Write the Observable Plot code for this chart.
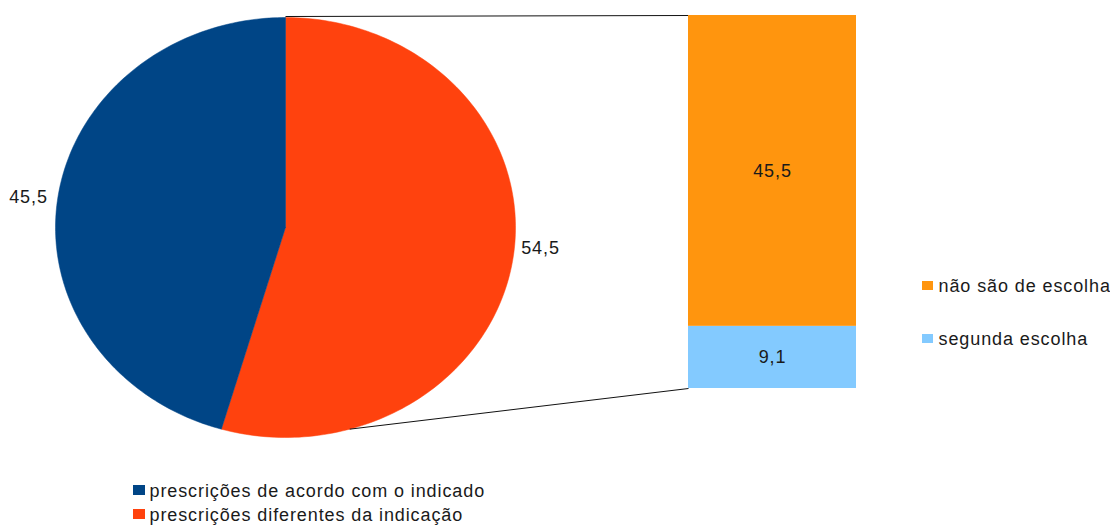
<!DOCTYPE html>
<html><head><meta charset="utf-8">
<script src="https://cdn.jsdelivr.net/npm/d3@7"></script>
<script src="https://cdn.jsdelivr.net/npm/@observablehq/plot@0.6"></script>
<style>
body{margin:0;background:#fff;}
#chart{position:relative;width:1110px;height:526px;}
#chart svg{position:absolute;left:0;top:0;}
#chart svg text{letter-spacing:0.9px;}
</style></head><body><div id="chart"></div>
<script>
const pieCategories = ["prescrições de acordo com o indicado", "prescrições diferentes da indicação"];
const pieValues = [45.5, 54.5];
const pieLabels = ["45,5", "54,5"];
const pieColors = ["#004586", "#ff420e"];
const barCategories = ["segunda escolha", "não são de escolha"];
const barValues = [9.1, 45.5];
const barLabels = ["9,1", "45,5"];
const barColors = ["#83caff", "#ff950e"];

const FONT = "Liberation Sans, Arial, sans-serif";
const TXT = "#1a1a1a";

// ---------- bar (second plot, overlaid) ----------
const barData = barCategories.map((c, i) => ({cat: c, value: barValues[i], label: barLabels[i]}));
const bar = Plot.plot({
  width: 1110, height: 526,
  marginLeft: 688, marginRight: 254, marginTop: 15, marginBottom: 138,
  x: {domain: ["g"], padding: 0, axis: null},
  y: {domain: [0, d3.sum(barValues)], axis: null},
  color: {domain: barCategories, range: barColors},
  style: {background: "transparent", fontFamily: FONT},
  marks: [
    Plot.barY(barData, {x: () => "g", y: "value", fill: "cat"}),
    Plot.text(barData, Plot.stackY({x: () => "g", y: "value", text: "label", fontSize: 18, fill: TXT}))
  ]
});
const bx = bar.scale("x"), by = bar.scale("y");
const barLeft = bx.apply("g");
const barTopY = by.apply(d3.sum(barValues));
const barBotY = by.apply(0);

// ---------- pie ----------
const CX = 285, CY = 227, RX = 230, RY = 210;
const total = d3.sum(pieValues);
const ell = a => ({x: CX + RX * Math.sin(a), y: CY - RY * Math.cos(a)});
const order = [1, 0]; // clockwise from 12 o'clock
let acc = 0;
const slices = order.map(i => {
  const a0 = acc / total * 2 * Math.PI; acc += pieValues[i];
  const a1 = acc / total * 2 * Math.PI;
  return {i, a0, a1, cat: pieCategories[i]};
});
const piePts = [];
for (const s of slices) {
  piePts.push({cat: s.cat, x: CX, y: CY});
  const n = 160;
  for (let k = 0; k <= n; k++) {
    const p = ell(s.a0 + (s.a1 - s.a0) * k / n);
    piePts.push({cat: s.cat, x: p.x, y: p.y});
  }
  piePts.push({cat: s.cat, x: CX, y: CY});
}
const pieLab = slices.map(s => {
  const m = (s.a0 + s.a1) / 2, p = ell(m);
  const right = Math.sin(m) > 0;
  return {x: p.x + (right ? 8 : -10), y: p.y + (right ? -9 : -1), text: pieLabels[s.i], anchor: right ? "start" : "end"};
});

// connectors
const aSplit = pieValues[0] / total * 2 * Math.PI;
const p0 = ell(0), p1 = ell(aSplit);
const links = [
  {x1: p0.x, y1: p0.y - 1, x2: barLeft, y2: barTopY},
  {x1: p1.x, y1: p1.y, x2: barLeft, y2: barBotY}
];

// legends
const rightLeg = barCategories.slice().reverse();
const bottomLeg = pieCategories;

const main = Plot.plot({
  width: 1110, height: 526, margin: 0,
  x: {domain: [0, 1110], range: [0, 1110], axis: null},
  y: {domain: [0, 526], range: [0, 526], axis: null},
  color: {domain: pieCategories.concat(barCategories), range: pieColors.concat(barColors)},
  style: {background: "#fff", fontFamily: FONT},
  marks: [
    Plot.line(piePts, {x: "x", y: "y", z: "cat", fill: "cat", stroke: "cat", strokeWidth: 0.5}),
    Plot.link(links, {x1: "x1", y1: "y1", x2: "x2", y2: "y2", stroke: "#111", strokeWidth: 1}),
    Plot.text(pieLab.filter(d => d.anchor === "start"), {x: "x", y: "y", text: "text", textAnchor: "start", fontSize: 18, fill: TXT}),
    Plot.text(pieLab.filter(d => d.anchor === "end"), {x: "x", y: "y", text: "text", textAnchor: "end", fontSize: 18, fill: TXT}),
    // right legend
    Plot.rect(rightLeg, {x1: 922, x2: 933, y1: (d, i) => 281 + i * 53, y2: (d, i) => 290 + i * 53, fill: d => d}),
    Plot.text(rightLeg, {x: 938, y: (d, i) => 291 + i * 53, text: d => d, textAnchor: "start", lineAnchor: "bottom", fontSize: 18, fill: TXT}),
    // bottom legend
    Plot.rect(bottomLeg, {x1: 133, x2: 145, y1: (d, i) => 485 + i * 24, y2: (d, i) => 495 + i * 24, fill: d => d}),
    Plot.text(bottomLeg, {x: 149, y: (d, i) => 496 + i * 24, text: d => d, textAnchor: "start", lineAnchor: "bottom", fontSize: 18, fill: TXT})
  ]
});

const el = document.getElementById("chart");
el.appendChild(main);
el.appendChild(bar);
</script>
</body></html>
